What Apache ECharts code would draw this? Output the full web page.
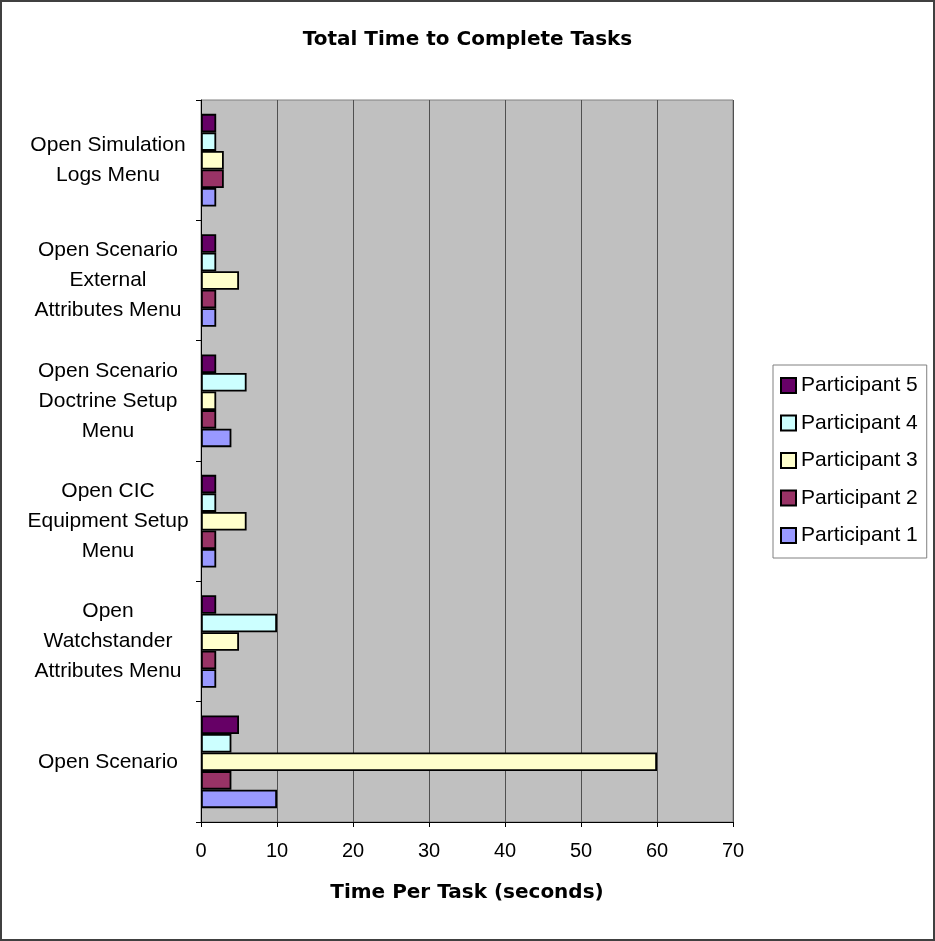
<!DOCTYPE html>
<html>
<head>
<meta charset="utf-8">
<script src="https://cdn.jsdelivr.net/npm/echarts@6/dist/echarts.min.js"></script>
<style>
  html, body { margin: 0; padding: 0; background: #fff; }
  #chart { width: 935px; height: 941px; }
</style>
</head>
<body>
<div id="chart"></div>
<script>
// categories, bottom to top as drawn
var tasks = [
	'Open Scenario',
	'Open\nWatchstander\nAttributes Menu',
	'Open CIC\nEquipment Setup\nMenu',
	'Open Scenario\nDoctrine Setup\nMenu',
	'Open Scenario\nExternal\nAttributes Menu',
	'Open Simulation\nLogs Menu'
];
var participant1 = [10, 2, 2, 4, 2, 2];
var participant2 = [4, 2, 2, 2, 2, 3];
var participant3 = [60, 5, 6, 2, 5, 3];
var participant4 = [4, 10, 2, 6, 2, 2];
var participant5 = [5, 2, 2, 2, 2, 2];
var xTicks = [0, 10, 20, 30, 40, 50, 60, 70];

var chart = echarts.init(document.getElementById('chart'));

function barSeries(name, data, color){
	return {
		name: name,
		type: 'bar',
		data: data,
		barGap: '0%',
		barCategoryGap: '23%',
		itemStyle: {
			color: color,
			borderColor: '#000',
			borderWidth: 1.8
		}
	};
}

option = {
	animation: false,
	backgroundColor: '#fff',
	title: {
		text: 'Total Time to Complete Tasks',
		left: 'center',
		top: 25,
		textStyle: {
			fontFamily: 'DejaVu Sans',
			fontWeight: 'bold',
			fontSize: 20,
			color: '#000'
		}
	},
	legend: {
		orient: 'vertical',
		left: 773,
		top: 365,
		padding: [10, 9, 12, 7],
		itemWidth: 15,
		itemHeight: 15,
		itemGap: 16.5,
		icon: 'rect',
		borderColor: '#808080',
		borderWidth: 1,
		backgroundColor: '#fff',
		textStyle: {
			fontFamily: 'Liberation Sans',
			fontSize: 21,
			color: '#000'
		}
	},
	grid: {
		left: 201,
		right: 202,
		top: 100,
		bottom: 119,
		show: true,
		backgroundColor: '#C0C0C0',
		borderColor: '#808080',
		borderWidth: 1
	},
	xAxis: {
		type: 'value',
		min: xTicks[0],
		max: xTicks[xTicks.length - 1],
		interval: 10,
		name: 'Time Per Task (seconds)',
		nameLocation: 'middle',
		nameGap: 61,
		nameTextStyle: {
			fontFamily: 'DejaVu Sans',
			fontWeight: 'bold',
			fontSize: 20,
			color: '#000'
		},
		axisLine: { show: true, lineStyle: { color: '#000', width: 1 } },
		axisTick: { show: true, length: 5, lineStyle: { color: '#000' } },
		axisLabel: {
			margin: 19,
			fontFamily: 'Liberation Sans',
			fontSize: 20,
			color: '#000'
		},
		splitLine: { show: true, lineStyle: { color: '#505050', width: 1 } }
	},
	yAxis: {
		type: 'category',
		data: tasks,
		axisLine: { show: true, lineStyle: { color: '#000', width: 1 } },
		axisTick: { show: true, length: 5, lineStyle: { color: '#000' } },
		axisLabel: {
			margin: 93,
			align: 'center',
			fontFamily: 'Liberation Sans',
			fontSize: 21,
			lineHeight: 30,
			color: '#000'
		},
		splitLine: { show: false }
	},
	series: [
		barSeries('Participant 5', participant5, '#660066'),
		barSeries('Participant 4', participant4, '#CCFFFF'),
		barSeries('Participant 3', participant3, '#FFFFCC'),
		barSeries('Participant 2', participant2, '#993366'),
		barSeries('Participant 1', participant1, '#9999FF')
	],
	graphic: [
		{
			type: 'rect',
			silent: true,
			shape: { x: 1, y: 1, width: 933, height: 939 },
			style: { fill: null, stroke: '#404040', lineWidth: 2 }
		}
	]
};
chart.setOption(option);
</script>
</body>
</html>
